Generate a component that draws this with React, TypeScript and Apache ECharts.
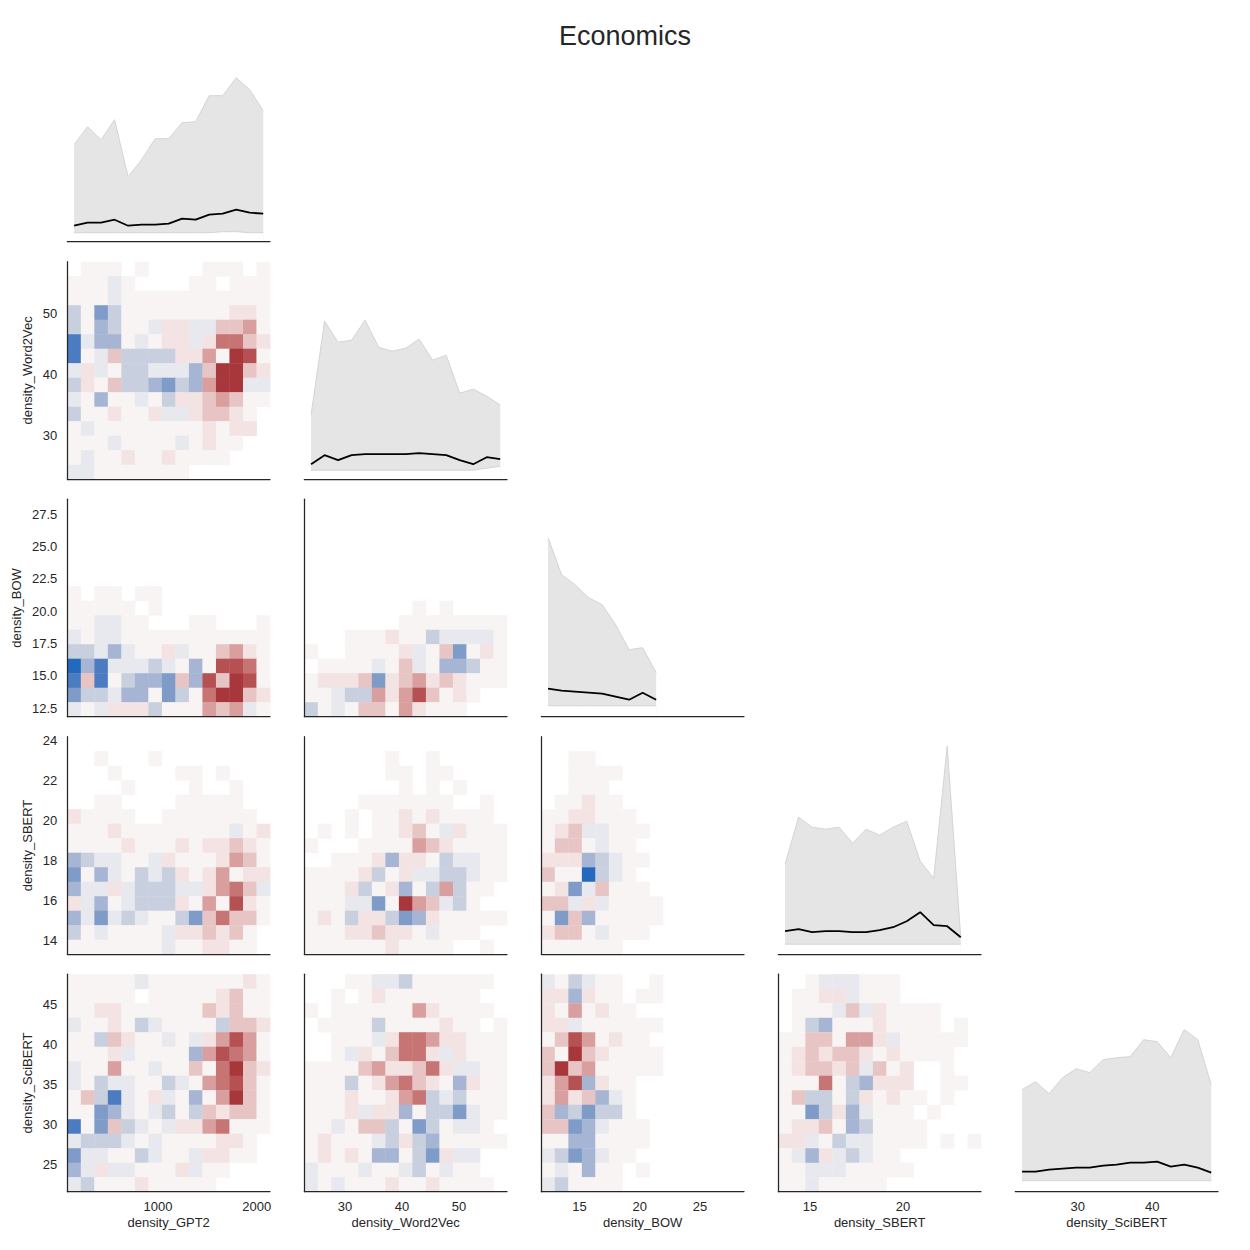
import { useEffect, useRef } from 'react';
import * as echarts from 'echarts';

const FONT = '"Liberation Sans", Arial, sans-serif';
const INK = '#262626';

const VARIABLES = ['density_GPT2', 'density_Word2Vec', 'density_BOW', 'density_SBERT', 'density_SciBERT'];
const AXIS_MIN = [80, 22.85, 11.83, 13.3, 21.65];
const AXIS_MAX = [2135, 58.45, 28.65, 24.2, 48.8];
const BIN_COUNT = 15;

const X_TICKS = [[1000, 2000], [30, 40, 50], [15, 20, 25], [15, 20], [30, 40]];
const Y_TICKS = [[], [30, 40, 50], [12.5, 15, 17.5, 20, 22.5, 25, 27.5], [14, 16, 18, 20, 22, 24], [25, 30, 35, 40, 45]];
const Y_DECIMALS = [0, 0, 1, 0, 0];

// diagonal panels: per-bin band (min..max) and mean
const GPT2_MAX = [9.7, 11.5, 10.2, 12.2, 6.5, 8.2, 10.3, 10.3, 11.9, 12.0, 14.6, 14.6, 16.4, 15.2, 13.1];
const GPT2_MEAN = [1.6, 1.9, 1.9, 2.2, 1.6, 1.7, 1.7, 1.8, 2.3, 2.2, 2.7, 2.8, 3.2, 2.9, 2.8];
const GPT2_MIN = [0.9, 0.9, 0.9, 0.9, 0.9, 0.9, 0.9, 0.9, 0.9, 0.9, 0.9, 1.0, 1.0, 0.9, 0.9];

const W2V_MAX = [6.4, 15.8, 13.7, 13.9, 15.9, 13.2, 12.8, 13.1, 14.0, 11.9, 12.4, 8.6, 9.0, 8.3, 7.4];
const W2V_MEAN = [1.5, 2.4, 1.9, 2.4, 2.5, 2.5, 2.5, 2.5, 2.6, 2.5, 2.4, 1.9, 1.5, 2.2, 2.0];
const W2V_MIN = [0.9, 0.9, 0.9, 0.9, 0.9, 0.9, 0.9, 0.9, 0.9, 0.9, 0.9, 0.9, 0.9, 1.1, 1.3];

const BOW_MAX = [17.9, 14.2, 13.2, 11.9, 11.2, 9.2, 6.7, 6.9, 4.4];
const BOW_MEAN = [2.8, 2.6, 2.5, 2.4, 2.3, 2.0, 1.7, 2.4, 1.7];
const BOW_MIN = [1.1, 1.1, 1.1, 1.1, 1.1, 1.1, 1.1, 1.1, 1.1];

const SBERT_MAX = [9.0, 13.7, 12.7, 12.5, 12.7, 11.1, 12.5, 11.9, 12.7, 13.3, 9.3, 7.6, 20.8, 1.7];
const SBERT_MEAN = [2.3, 2.5, 2.2, 2.3, 2.3, 2.2, 2.2, 2.4, 2.7, 3.3, 4.2, 2.9, 2.8, 1.7];
const SBERT_MIN = [1.0, 1.0, 1.0, 1.0, 1.0, 1.0, 1.0, 1.0, 1.0, 1.0, 1.0, 1.0, 1.0, 1.0];

const SCIBERT_MAX = [10.2, 11.0, 9.8, 11.4, 12.3, 11.9, 13.2, 13.4, 13.5, 15.2, 15.0, 13.4, 16.2, 15.2, 10.7];
const SCIBERT_MEAN = [2.0, 2.0, 2.2, 2.3, 2.4, 2.4, 2.6, 2.7, 2.9, 2.9, 3.0, 2.5, 2.7, 2.4, 1.9];
const SCIBERT_MIN = [1.1, 1.1, 1.1, 1.1, 1.1, 1.1, 1.1, 1.1, 1.1, 1.1, 1.1, 1.1, 1.1, 1.1, 1.1];

const DIAG_MAX = [GPT2_MAX, W2V_MAX, BOW_MAX, SBERT_MAX, SCIBERT_MAX];
const DIAG_MEAN = [GPT2_MEAN, W2V_MEAN, BOW_MEAN, SBERT_MEAN, SCIBERT_MEAN];
const DIAG_MIN = [GPT2_MIN, W2V_MIN, BOW_MIN, SBERT_MIN, SCIBERT_MIN];
const DIAG_TOP = 21.75;

// heatmap cells, top row first: f..a = blue (-6..-1), 0 = neutral, 1..6 = red, '.' = empty
const LEVELS = 'fedcba0123456';
const PALETTE = [
  '#2369bd', '#4b7bc0', '#7f9cc9', '#a5b5d3', '#c8cfdf', '#e8e8ef', '#f8f4f4',
  '#f4e3e3', '#e8c5c5', '#d99e9e', '#c77474', '#b65153', '#a8373b',
];

const W2V_GPT2 = [
  '.000.0....000.0', '000a0....00.000', '000a00000000000', 'b0db00000000110', 'b0cb00a11aa2230',
  'eacc0a011a14421', 'e0a2bbbb1130650', 'a1a0bbaaac26621', 'b102bbcdbc366aa', 'a0c00a0b1123200',
  'b001001aa12210.', '0a000000001011.', '000a0000a0100..', '0a0010010000...', 'aa0000000......',
];
const BOW_GPT2 = [
  '...............', '...............', '...............', '...............', '...............',
  '...............', '0.00.00........', '00000.0........', '00aa00...00...0', 'a0aa00000000000',
  'bbaca001a002310', 'fceaaaba0c05540', 'e2e0bccd2c52650', 'dbbacc0db046621', 'a0a111b000323a0',
];
const SBERT_GPT2 = [
  '...............', '..0...0........', '...0....00.0...', '....0....0..0..', '..00....00000..',
  '10000..0000000.', '000100000000a01', '000010001011210', 'cbaa00a10001320', 'd0ca0bab1013011',
  'caa1abbbaa1342a', '1ac0abbb1030510', 'cadaba00bd24220', 'b0a0000a112120.', '0000000a001100.',
];
const SCIBERT_GPT2 = [
  '00000a000000010', '00000.000001200', '001100000021200', 'a0010ba0000b221', '00b2100a0a13530',
  '0001a0000c35430', 'a00300a00204621', 'a0baa00ba034520', '02bea01a0c03620', '00dca0ab0b21220',
  'e0d2ba0a1134000', 'abbba0a0000110.', 'daa00ba00a1100.', 'ca1aa0001a00...', 'ab000100000....',
];
const BOW_W2V = [
  '...............', '...............', '...............', '...............', '...............',
  '...............', '...............', '........0.0....', '.......00000000', '...000100baaaa0',
  '0..00001a02d010', '.0000a02a0ccb00', '01112d123121000', '00abb31352010..', 'b0a022031000...',
];
const SBERT_W2V = [
  '...............', '......0..0.....', '......00.00....', '.......0.0.0...', '....0000000..0.',
  '...0.001010000.', '.0.0.00120a1000', '0...00003210000', '..0001c110baa00', '00001b01aabba00',
  '0001b01c0b3b00.', '000aad0632ab0..', '010b11bdc100000', '000112110a000..', '00000010000..0.',
];
const SCIBERT_W2V = [
  '...00aab000000.', '..0.010000000..', '0.000000310000.', '.0000b0000100.0', '..000a144311000',
  '..0a102441a1000', '00002311241aa00', '000b0134210c100', '000100134bab000', '0001a11c0bbda00',
  '00a022b0db0aa0.', '01000ab1bc00000', '01010cc0bd1aa..', 'a000a00ab0a00..', 'a0a00010010000.',
];
const SBERT_BOW = [
  '...............', '..00...........', '..0000.........', '..000..........', '.00100.........',
  '0011000........', '012aa000.......', '0220a00........', '111cba00.......', '200fba0........',
  '01da2000.......', '22a1a0000......', '0d2c00000......', '1220a000.......', '000000.........',
];
const SCIBERT_BOW = [
  'a0ba00..0......', '11c100.00......', '1030100........', '11a000000......', '02530100.......',
  '206210000......', '262300000......', '135c100........', '1312ca0........', '2cbdbb0........',
  '22dca000.......', '00cc0000.......', 'abdca00........', '0a0c00.0.......', 'ab0000.........',
];
const SCIBERT_SBERT = [
  '..0aaa000......', '.0011a000......', '.000a2a10000...', '.0bc00010000.0.', '00220331a00000.',
  '0121221010000..', '012212a201..0..', '00040bc111..00.', '02bb0b10100.0..', '00db1ca000.0...',
  '01120cb0000....', '11a0baa0000.0.0', '0ac1aba00......', '00aaa00000.....', '00a00000.......',
];

const HEATMAPS: Record<string, string[]> = {
  '1-0': W2V_GPT2,
  '2-0': BOW_GPT2,
  '3-0': SBERT_GPT2,
  '4-0': SCIBERT_GPT2,
  '2-1': BOW_W2V,
  '3-1': SBERT_W2V,
  '4-1': SCIBERT_W2V,
  '3-2': SBERT_BOW,
  '4-2': SCIBERT_BOW,
  '4-3': SCIBERT_SBERT,
};

const binEdge = (v: number, i: number) => AXIS_MIN[v] + (i * (AXIS_MAX[v] - AXIS_MIN[v])) / BIN_COUNT;
const binCenter = (v: number, i: number) => binEdge(v, i + 0.5);

function cellsFor(rows: string[], xv: number, yv: number) {
  const out: number[][] = [];
  rows.forEach((row, rr) => {
    const j = BIN_COUNT - 1 - rr;
    for (let i = 0; i < row.length; i++) {
      const ch = row[i];
      if (ch === '.') continue;
      const level = LEVELS.indexOf(ch) - 6;
      out.push([binEdge(xv, i), binEdge(yv, j), binEdge(xv, i + 1), binEdge(yv, j + 1), level]);
    }
  });
  return out;
}

const renderCell = (_params: any, api: any) => {
  const a = api.coord([api.value(0), api.value(3)]);
  const b = api.coord([api.value(2), api.value(1)]);
  return {
    type: 'rect',
    shape: { x: a[0], y: a[1], width: b[0] - a[0] + 0.4, height: b[1] - a[1] + 0.4 },
    style: { fill: api.visual('color') },
  };
};

const LEFT0 = 67.3;
const STEP_X = 237;
const CELL_W = 202.7;
const BOTTOM0 = 241.7;
const STEP_Y = 237.5;
const CELL_H = 217.5;

const labelStyle = { color: INK, fontSize: 13, fontFamily: FONT };
const axisLine = { show: true, onZero: false, lineStyle: { color: INK, width: 1.25 } };

function buildOption() {
  const grid: any[] = [];
  const xAxis: any[] = [];
  const yAxis: any[] = [];
  const series: any[] = [];
  const heatSeries: number[] = [];

  let k = 0;
  for (let r = 0; r < 5; r++) {
    for (let c = 0; c <= r; c++) {
      grid.push({
        left: LEFT0 + c * STEP_X,
        top: BOTTOM0 + r * STEP_Y - CELL_H,
        width: CELL_W,
        height: CELL_H,
      });
      const bottomRow = r === 4;
      xAxis.push({
        type: 'value',
        gridIndex: k,
        min: AXIS_MIN[c],
        max: AXIS_MAX[c],
        z: 10,
        axisLine,
        axisTick: { show: false },
        splitLine: { show: false },
        axisLabel: bottomRow
          ? { show: true, customValues: X_TICKS[c], margin: 8, formatter: (v: number) => String(v), ...labelStyle }
          : { show: false },
        name: bottomRow ? VARIABLES[c] : '',
        nameLocation: 'middle',
        nameGap: 24,
        nameTextStyle: labelStyle,
      });

      if (r === c) {
        yAxis.push({ type: 'value', gridIndex: k, min: 0, max: DIAG_TOP, show: false });
        const xs = DIAG_MAX[c].map((_, i) => binCenter(c, i));
        const common = { type: 'line', xAxisIndex: k, yAxisIndex: k, symbol: 'none', silent: true };
        // band top, filled down to the axis
        series.push({
          ...common,
          z: 2,
          data: xs.map((x, i) => [x, DIAG_MAX[c][i]]),
          lineStyle: { color: '#d4d4d4', width: 1 },
          areaStyle: { color: '#e5e5e5', opacity: 1, origin: 'start' },
        });
        // band bottom: clear below it
        series.push({
          ...common,
          z: 3,
          data: xs.map((x, i) => [x, DIAG_MIN[c][i]]),
          lineStyle: { color: '#d4d4d4', width: 1 },
          areaStyle: { color: '#ffffff', opacity: 1, origin: 'start' },
        });
        series.push({
          ...common,
          z: 4,
          data: xs.map((x, i) => [x, DIAG_MEAN[c][i]]),
          lineStyle: { color: '#000000', width: 1.8 },
        });
      } else {
        const firstCol = c === 0;
        yAxis.push({
          type: 'value',
          gridIndex: k,
          min: AXIS_MIN[r],
          max: AXIS_MAX[r],
          z: 10,
          axisLine,
          axisTick: { show: false },
          splitLine: { show: false },
          axisLabel: firstCol
            ? {
                show: true,
                customValues: Y_TICKS[r],
                margin: 10,
                formatter: (v: number) => v.toFixed(Y_DECIMALS[r]),
                ...labelStyle,
              }
            : { show: false },
          name: firstCol ? VARIABLES[r] : '',
          nameLocation: 'middle',
          nameGap: r === 2 ? 44 : 33,
          nameTextStyle: labelStyle,
        });
        series.push({
          type: 'custom',
          xAxisIndex: k,
          yAxisIndex: k,
          silent: true,
          renderItem: renderCell,
          encode: { x: [0, 2], y: [1, 3] },
          data: cellsFor(HEATMAPS[`${r}-${c}`], c, r),
        });
        heatSeries.push(series.length - 1);
      }
      k++;
    }
  }

  return {
    animation: false,
    backgroundColor: '#ffffff',
    title: {
      text: 'Economics',
      left: 'center',
      top: 17,
      textStyle: { color: INK, fontSize: 27, fontWeight: 'normal', fontFamily: FONT },
    },
    visualMap: {
      type: 'continuous',
      show: false,
      min: -6,
      max: 6,
      dimension: 4,
      seriesIndex: heatSeries,
      inRange: { color: PALETTE },
    },
    grid,
    xAxis,
    yAxis,
    series,
  };
}

export default function App() {
  const chartRef = useRef<HTMLDivElement>(null);

  useEffect(() => {
    if (!chartRef.current) return;
    const chart = echarts.init(chartRef.current, undefined, { renderer: 'svg' });
    chart.setOption(buildOption() as any);
    return () => {
      chart.dispose();
    };
  }, []);

  return (
    <div
      ref={chartRef}
      style={{ position: 'absolute', left: 0, top: 0, width: 1250, height: 1250, background: '#fff' }}
    />
  );
}
